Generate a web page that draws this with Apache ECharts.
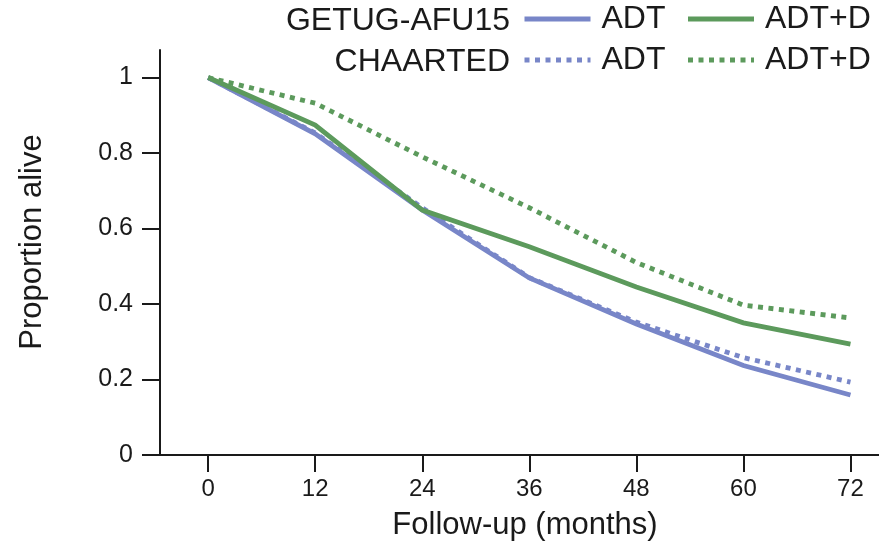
<!DOCTYPE html>
<html>
<head>
<meta charset="utf-8">
<script src="https://cdn.jsdelivr.net/npm/echarts@6/dist/echarts.min.js"></script>
<style>
html,body{margin:0;padding:0;background:#fff;}
#chart{width:879px;height:542px;}
</style>
</head>
<body>
<div id="chart"></div>
<script>
// Data
var months = [0, 12, 24, 36, 48, 60, 72];
var getugADT  = [1.0, 0.851, 0.649, 0.469, 0.347, 0.237, 0.159];
var getugADTD = [1.0, 0.874, 0.649, 0.552, 0.445, 0.350, 0.294];
var chaartedADT  = [1.0, 0.853, 0.655, 0.470, 0.352, 0.258, 0.193];
var chaartedADTD = [1.0, 0.932, 0.790, 0.655, 0.510, 0.397, 0.363];
var xTicks = [0, 12, 24, 36, 48, 60, 72];
var yTicks = [0, 0.2, 0.4, 0.6, 0.8, 1];
var groupLabels = ['GETUG-AFU15', 'CHAARTED'];
var armLabels = ['ADT', 'ADT+D'];

var BLUE = '#7886c8';
var GREEN = '#5c9a5c';
var INK = '#1a1a1a';
var FONT = '"Liberation Sans", Arial, Helvetica, sans-serif';

function pairs(xs, ys){ return xs.map(function(x,i){ return [x, ys[i]]; }); }

var names = {
  gA: groupLabels[0] + ' ' + armLabels[0],
  gD: groupLabels[0] + ' ' + armLabels[1],
  cA: groupLabels[1] + ' ' + armLabels[0],
  cD: groupLabels[1] + ' ' + armLabels[1]
};
function shortName(n){ return n.indexOf(armLabels[1]) >= 0 ? armLabels[1] : armLabels[0]; }

var dotted = [5, 5.5];

function mkSeries(name, data, color, dash, z){
  return {
    name: name, type: 'line', data: pairs(months, data),
    symbol: 'none', showSymbol: false, silent: true, animation: false, z: z,
    lineStyle: { color: color, width: 4.8, type: dash ? dotted : 'solid', cap: 'butt', join: 'miter' },
    itemStyle: { color: color }
  };
}

var legendCommon = {
  orient: 'horizontal', left: 522, padding: 0,
  itemWidth: 66, itemHeight: 14, itemGap: 20,
  selectedMode: false,
  formatter: shortName,
  lineStyle: { width: 5 },
  itemStyle: { opacity: 0, borderWidth: 0 },
  textStyle: { fontSize: 32, color: INK, fontFamily: FONT, padding: [0, 0, 0, 6] }
};

var chart = echarts.init(document.getElementById('chart'), null, { renderer: 'canvas' });
chart.setOption({
  animation: false,
  backgroundColor: '#fff',
  grid: { left: 160, right: 0, top: 50, bottom: 87, containLabel: false },
  legend: [
    Object.assign({}, legendCommon, { top: 3, data: [names.gA, names.gD] }),
    Object.assign({}, legendCommon, { top: 44, data: [names.cA, names.cD] })
  ],
  xAxis: {
    type: 'value', min: -5.4, max: 75.2,
    splitLine: { show: false },
    axisLine: { show: true, onZero: false, lineStyle: { color: INK, width: 2 } },
    axisTick: { show: true, length: 17, inside: false, customValues: xTicks, lineStyle: { color: INK, width: 2 } },
    axisLabel: { customValues: xTicks, margin: 22, fontSize: 24, color: INK, fontFamily: FONT }
  },
  yAxis: {
    type: 'value', min: 0, max: 1.073,
    splitLine: { show: false },
    axisLine: { show: true, onZero: false, lineStyle: { color: INK, width: 2 } },
    axisTick: { show: true, length: 18, inside: false, customValues: yTicks, lineStyle: { color: INK, width: 2 } },
    axisLabel: { customValues: yTicks, margin: 27, fontSize: 25, color: INK, fontFamily: FONT,
      formatter: function(v){ return String(+(+v).toFixed(1)); } }
  },
  graphic: [
    { type: 'text', x: 510, y: 21, style: { text: groupLabels[0], fontSize: 32, fontFamily: FONT, fill: INK, align: 'right', verticalAlign: 'middle' } },
    { type: 'text', x: 510, y: 62, style: { text: groupLabels[1], fontSize: 32, fontFamily: FONT, fill: INK, align: 'right', verticalAlign: 'middle' } },
    { type: 'text', x: 32, y: 242, rotation: Math.PI / 2, style: { text: 'Proportion alive', fontSize: 31, fontFamily: FONT, fill: INK, align: 'center', verticalAlign: 'middle' } },
    { type: 'text', x: 525, y: 525, style: { text: 'Follow-up (months)', fontSize: 31, fontFamily: FONT, fill: INK, align: 'center', verticalAlign: 'middle' } }
  ],
  series: [
    mkSeries(names.cA, chaartedADT, BLUE, true, 2),
    mkSeries(names.cD, chaartedADTD, GREEN, true, 2),
    mkSeries(names.gA, getugADT, BLUE, false, 3),
    mkSeries(names.gD, getugADTD, GREEN, false, 4)
  ]
});
</script>
</body>
</html>
